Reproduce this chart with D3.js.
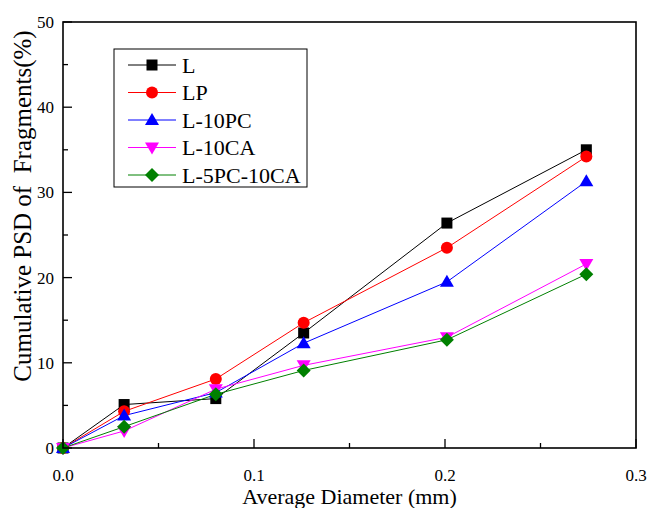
<!DOCTYPE html>
<html>
<head>
  <meta charset="utf-8">
  <title>Cumulative PSD of Fragments</title>
  <script src="https://d3js.org/d3.v7.min.js"></script>
  <style>
    body { margin: 0; background: #fff; }
  </style>
</head>
<body>
  <div id="chart"></div>
  <script>
    // data
    var diameters = [0, 0.032, 0.080, 0.126, 0.201, 0.274];
    var seriesNames = ["L", "LP", "L-10PC", "L-10CA", "L-5PC-10CA"];
    var valuesL = [0, 5.1, 5.8, 13.5, 26.4, 35.0];
    var valuesLP = [0, 4.3, 8.1, 14.7, 23.5, 34.2];
    var values10PC = [0, 3.8, 6.5, 12.3, 19.5, 31.3];
    var values10CA = [0, 2.0, 6.9, 9.7, 13.0, 21.6];
    var values5PC10CA = [0, 2.5, 6.3, 9.1, 12.7, 20.4];
    var xTicks = [0, 0.1, 0.2, 0.3];
    var yTicks = [0, 10, 20, 30, 40, 50];

    var colors = ["#000000", "#ff0000", "#0000ff", "#ff00ff", "#008000"];
    var shapes = ["square", "circle", "triangle", "triangleDown", "diamond"];
    var allValues = [valuesL, valuesLP, values10PC, values10CA, values5PC10CA];
    var serif = "'Liberation Serif', Tinos, 'Times New Roman', 'DejaVu Serif', serif";

    var series = seriesNames.map(function(name, i) {
      return {
        name: name,
        color: colors[i],
        shape: shapes[i],
        points: diameters.map(function(d, j) { return {x: d, y: allValues[i][j]}; })
      };
    });

    var W = 647, H = 508;
    var margin = {top: 22, right: 11, bottom: 60, left: 63},
        width = W - margin.left - margin.right,
        height = H - margin.top - margin.bottom;

    var svg = d3.select("#chart").append("svg")
      .attr("width", W)
      .attr("height", H)
      .attr("font-family", serif)
      .style("font-family", serif);

    var g = svg.append("g")
      .attr("transform", "translate(" + margin.left + "," + margin.top + ")");

    var x = d3.scaleLinear().domain([0, 0.3]).range([0, width]);
    var y = d3.scaleLinear().domain([0, 50]).range([height, 0]);

    // minor ticks
    var xMinor = [0.05, 0.15, 0.25];
    var yMinor = [5, 15, 25, 35, 45];

    g.selectAll(".xminor").data(xMinor).enter().append("line")
      .attr("x1", d => x(d)).attr("x2", d => x(d))
      .attr("y1", height).attr("y2", height - 5)
      .attr("stroke", "#000").attr("stroke-width", 1.3);
    g.selectAll(".xmajor").data(xTicks).enter().append("line")
      .attr("x1", d => x(d)).attr("x2", d => x(d))
      .attr("y1", height).attr("y2", height - 9)
      .attr("stroke", "#000").attr("stroke-width", 1.3);
    g.selectAll(".yminor").data(yMinor).enter().append("line")
      .attr("x1", 0).attr("x2", 5)
      .attr("y1", d => y(d)).attr("y2", d => y(d))
      .attr("stroke", "#000").attr("stroke-width", 1.3);
    g.selectAll(".ymajor").data(yTicks).enter().append("line")
      .attr("x1", 0).attr("x2", 9)
      .attr("y1", d => y(d)).attr("y2", d => y(d))
      .attr("stroke", "#000").attr("stroke-width", 1.3);

    // tick labels
    g.selectAll(".xlab").data(xTicks).enter().append("text")
      .attr("x", d => x(d))
      .attr("y", height + 33)
      .attr("text-anchor", "middle")
      .style("font-size", "17px")
      .text(d => d3.format(".1f")(d));

    g.selectAll(".ylab").data(yTicks).enter().append("text")
      .attr("x", -9)
      .attr("y", d => y(d) + 6)
      .attr("text-anchor", "end")
      .style("font-size", "17px")
      .text(d => d);

    // series lines
    var line = d3.line().x(d => x(d.x)).y(d => y(d.y));
    g.selectAll(".series").data(series).enter().append("path")
      .attr("d", d => line(d.points))
      .attr("fill", "none")
      .attr("stroke", d => d.color)
      .attr("stroke-width", 1);

    function marker(sel, shape, color) {
      if (shape === "square") {
        sel.append("rect").attr("x", -5.5).attr("y", -5.5).attr("width", 11).attr("height", 11).attr("fill", color);
      } else if (shape === "circle") {
        sel.append("circle").attr("r", 6).attr("fill", color);
      } else if (shape === "triangle") {
        sel.append("path").attr("d", "M0,-7L7,5L-7,5Z").attr("fill", color);
      } else if (shape === "triangleDown") {
        sel.append("path").attr("d", "M0,7L7,-5L-7,-5Z").attr("fill", color);
      } else if (shape === "diamond") {
        sel.append("path").attr("d", "M0,-7L7,0L0,7L-7,0Z").attr("fill", color);
      }
    }

    series.forEach(function(s) {
      s.points.forEach(function(p) {
        var m = g.append("g").attr("transform", "translate(" + x(p.x) + "," + y(p.y) + ")");
        marker(m, s.shape, s.color);
      });
    });

    // frame
    g.append("rect")
      .attr("x", 0).attr("y", 0)
      .attr("width", width).attr("height", height)
      .attr("fill", "none")
      .attr("stroke", "#000")
      .attr("stroke-width", 1.6);

    // legend
    var legend = svg.append("g").attr("transform", "translate(114,49)");
    legend.append("rect")
      .attr("width", 193).attr("height", 138)
      .attr("fill", "#fff")
      .attr("stroke", "#000")
      .attr("stroke-width", 1);
    series.forEach(function(s, i) {
      var row = legend.append("g").attr("transform", "translate(0," + (16 + i * 27.5) + ")");
      row.append("line")
        .attr("x1", 14).attr("x2", 62)
        .attr("stroke", s.color).attr("stroke-width", 1);
      var m = row.append("g").attr("transform", "translate(38,0)");
      marker(m, s.shape, s.color);
      row.append("text")
        .attr("x", 68).attr("y", 7.5)
        .style("font-size", "22px")
        .text(s.name);
    });

    // axis titles
    svg.append("text")
      .attr("x", margin.left + width / 2)
      .attr("y", 504)
      .attr("text-anchor", "middle")
      .style("font-size", "22px")
      .text("Average Diameter (mm)");

    svg.append("text")
      .attr("transform", "translate(31,206) rotate(-90)")
      .attr("text-anchor", "middle")
      .attr("xml:space", "preserve")
      .style("white-space", "pre")
      .style("font-size", "25px")
      .text("Cumulative PSD of  Fragments(%)");
  </script>
</body>
</html>
